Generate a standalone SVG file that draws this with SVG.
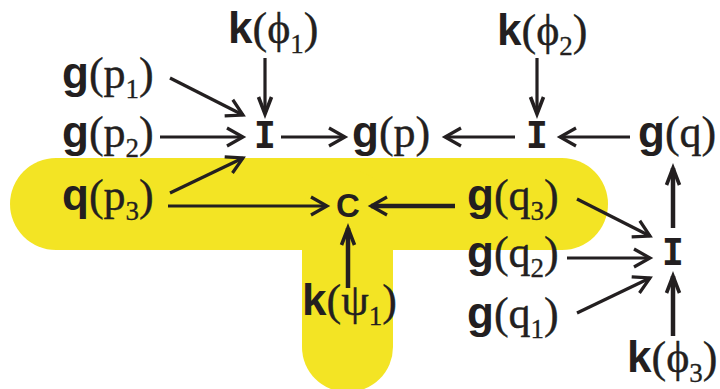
<svg xmlns="http://www.w3.org/2000/svg" width="720" height="389" viewBox="0 0 720 389">
<style>
.t{font-size:44px;fill:#231f20}
.b{font-family:"Liberation Sans",Arial,sans-serif;font-weight:bold}
.s{font-family:"Liberation Serif","Times New Roman",serif;stroke:#231f20;stroke-width:0.4}
.u{font-family:"Liberation Serif","Times New Roman",serif;font-size:27px;stroke:#231f20;stroke-width:0.3}
.op{font-family:"DejaVu Sans Mono",monospace;font-weight:bold;font-size:37px;fill:#231f20}
.c{font-family:"Liberation Sans",Arial,sans-serif;font-weight:bold;font-size:33px;fill:#231f20}
.l{stroke:#231f20;stroke-width:3.2;fill:none}
.k{stroke:#231f20;stroke-width:4.5;fill:none}
</style>
<defs>
<marker id="a" markerUnits="userSpaceOnUse" orient="auto" overflow="visible" refX="0" refY="0" markerWidth="20" markerHeight="20">
<path d="M-16,-9 L0,0 L-16,9" fill="none" stroke="#231f20" stroke-width="3.2"/>
</marker>
<marker id="h" markerUnits="userSpaceOnUse" orient="auto" overflow="visible" refX="0" refY="0" markerWidth="20" markerHeight="20">
<path d="M-17,-6.5 L0,0 L-17,6.5" fill="none" stroke="#231f20" stroke-width="3.6"/>
</marker>
</defs>
<g id="highlight" fill="#f3e424">
<rect x="10" y="158" width="598" height="92" rx="46"/>
<rect x="302" y="170" width="91" height="222" rx="45"/>
</g>
<g id="connectors">
<line class="l" x1="265" y1="58" x2="265" y2="114" marker-end="url(#h)"/>
<line class="l" x1="170" y1="78" x2="243" y2="115" marker-end="url(#a)"/>
<line class="l" x1="160" y1="137" x2="243" y2="137" marker-end="url(#a)"/>
<line class="l" x1="170" y1="193" x2="243" y2="158" marker-end="url(#a)"/>
<line class="l" x1="281" y1="137" x2="345" y2="137" marker-end="url(#a)"/>
<line class="l" x1="168" y1="206" x2="327" y2="206" marker-end="url(#a)"/>
<line class="k" x1="348" y1="288" x2="348" y2="228" marker-end="url(#h)"/>
<line class="k" x1="455" y1="206" x2="371" y2="206" marker-end="url(#a)"/>
<line class="l" x1="537" y1="58" x2="537" y2="114" marker-end="url(#h)"/>
<line class="l" x1="515" y1="137" x2="445" y2="137" marker-end="url(#a)"/>
<line class="l" x1="630" y1="137" x2="560" y2="137" marker-end="url(#a)"/>
<line class="k" x1="673" y1="228" x2="673" y2="168" marker-end="url(#h)"/>
<line class="l" x1="577" y1="199" x2="650" y2="236" marker-end="url(#a)"/>
<line class="l" x1="567" y1="258" x2="650" y2="258" marker-end="url(#a)"/>
<line class="l" x1="577" y1="313" x2="650" y2="278" marker-end="url(#a)"/>
<line class="k" x1="673" y1="336" x2="673" y2="276" marker-end="url(#h)"/>
</g>
<g id="I1"><text class="op" x="265" y="148" text-anchor="middle">I</text></g>
<g id="I2"><text class="op" x="537" y="148" text-anchor="middle">I</text></g>
<g id="I3"><text class="op" x="673" y="265" text-anchor="middle">I</text></g>
<g id="C"><text class="c" x="348" y="217" text-anchor="middle">C</text></g>
<g id="k_phi1"><text class="t" x="228" y="43"><tspan class="b">k</tspan><tspan class="s">(ϕ</tspan><tspan class="u" dy="10">1</tspan><tspan class="s" dy="-10">)</tspan></text></g>
<g id="k_phi2"><text class="t" x="497" y="45"><tspan class="b">k</tspan><tspan class="s">(ϕ</tspan><tspan class="u" dy="10">2</tspan><tspan class="s" dy="-10">)</tspan></text></g>
<g id="g_p1"><text class="t" x="62" y="88"><tspan class="b">g</tspan><tspan class="s">(p</tspan><tspan class="u" dy="10">1</tspan><tspan class="s" dy="-10">)</tspan></text></g>
<g id="g_p2"><text class="t" x="62" y="147"><tspan class="b">g</tspan><tspan class="s">(p</tspan><tspan class="u" dy="10">2</tspan><tspan class="s" dy="-10">)</tspan></text></g>
<g id="q_p3"><text class="t" x="62" y="210"><tspan class="b">q</tspan><tspan class="s">(p</tspan><tspan class="u" dy="10">3</tspan><tspan class="s" dy="-10">)</tspan></text></g>
<g id="g_p"><text class="t" x="352" y="147"><tspan class="b">g</tspan><tspan class="s">(p)</tspan></text></g>
<g id="g_q"><text class="t" x="638" y="147"><tspan class="b">g</tspan><tspan class="s">(q)</tspan></text></g>
<g id="g_q3"><text class="t" x="467" y="210"><tspan class="b">g</tspan><tspan class="s">(q</tspan><tspan class="u" dy="10">3</tspan><tspan class="s" dy="-10">)</tspan></text></g>
<g id="g_q2"><text class="t" x="467" y="267"><tspan class="b">g</tspan><tspan class="s">(q</tspan><tspan class="u" dy="10">2</tspan><tspan class="s" dy="-10">)</tspan></text></g>
<g id="g_q1"><text class="t" x="467" y="328"><tspan class="b">g</tspan><tspan class="s">(q</tspan><tspan class="u" dy="10">1</tspan><tspan class="s" dy="-10">)</tspan></text></g>
<g id="k_psi1"><text class="t" x="302" y="315"><tspan class="b">k</tspan><tspan class="s">(ψ</tspan><tspan class="u" dy="10">1</tspan><tspan class="s" dy="-10">)</tspan></text></g>
<g id="k_phi3"><text class="t" x="627" y="372"><tspan class="b">k</tspan><tspan class="s">(ϕ</tspan><tspan class="u" dy="10">3</tspan><tspan class="s" dy="-10">)</tspan></text></g>
</svg>
